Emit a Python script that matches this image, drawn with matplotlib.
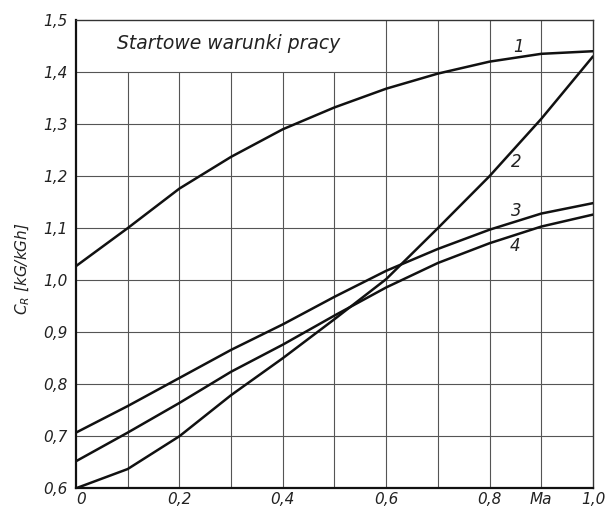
import matplotlib.pyplot as plt

# Ma number and the four unit-consumption curves
ma = [0.0, 0.1, 0.2, 0.3, 0.4, 0.5, 0.6, 0.7, 0.8, 0.9, 1.0]
cr_1 = [1.027, 1.100, 1.176, 1.237, 1.290, 1.332, 1.368, 1.397, 1.420, 1.435, 1.440]
cr_2 = [0.600, 0.637, 0.700, 0.779, 0.850, 0.925, 1.002, 1.100, 1.200, 1.310, 1.430]
cr_3 = [0.707, 0.758, 0.812, 0.866, 0.915, 0.968, 1.018, 1.060, 1.097, 1.128, 1.148]
cr_4 = [0.652, 0.707, 0.764, 0.824, 0.876, 0.932, 0.986, 1.033, 1.071, 1.103, 1.126]

curves = [cr_1, cr_2, cr_3, cr_4]
curve_names = ["1", "2", "3", "4"]
name_pos = [(0.855, 1.448), (0.852, 1.228), (0.852, 1.133), (0.849, 1.066)]

y_ticks = [0.6, 0.7, 0.8, 0.9, 1.0, 1.1, 1.2, 1.3, 1.4, 1.5]
y_labels = ["0,6", "0,7", "0,8", "0,9", "1,0", "1,1", "1,2", "1,3", "1,4", "1,5"]
x_ticks = [0.0, 0.2, 0.4, 0.6, 0.8, 0.9, 1.0]
x_labels = ["0", "0,2", "0,4", "0,6", "0,8", "Ma", "1,0"]

fig = plt.figure(figsize=(6.06, 5.09), dpi=100)
ax = fig.add_axes([0.1254, 0.0407, 0.8531, 0.920])

grid_kw = dict(color="#555555", lw=0.8, zorder=1)
# horizontal grid
ax.hlines([0.7, 0.8, 0.9, 1.0, 1.1, 1.2, 1.3, 1.4], 0, 1.0, **grid_kw)
# vertical grid: left part stops under the heading
ax.vlines([0.1, 0.2, 0.3, 0.4, 0.5], 0.6, 1.4, **grid_kw)
ax.vlines([0.6, 0.7, 0.8, 0.9], 0.6, 1.5, **grid_kw)

for cr in curves:
    ax.plot(ma, cr, color="#111111", lw=1.8, zorder=3,
            solid_capstyle="round", solid_joinstyle="round")

for name, (xp, yp) in zip(curve_names, name_pos):
    ax.text(xp, yp, name, fontsize=12, style="italic", ha="center", va="center",
            color="#222222")

ax.text(0.08, 1.455, "Startowe warunki pracy", fontsize=13.5, style="italic",
        ha="left", va="center", color="#222222")

ax.set_xlim(0, 1.0)
ax.set_ylim(0.6, 1.5)
ax.set_yticks(y_ticks)
ax.set_yticklabels(y_labels)
ax.set_xticks(x_ticks)
ax.set_xticklabels(x_labels)
ax.tick_params(length=0, labelsize=11, colors="#222222")
ax.tick_params(axis="y", pad=6)
ax.tick_params(axis="x", pad=3)
for lab in ax.get_xticklabels() + ax.get_yticklabels():
    lab.set_style("italic")
ax.get_xticklabels()[0].set_horizontalalignment("left")

ax.set_ylabel("$C_R$ [kG/kGh]", fontsize=11, style="italic", color="#222222")
ax.yaxis.set_label_coords(-0.085, 0.47)

for side in ["left", "bottom"]:
    ax.spines[side].set_linewidth(1.6)
    ax.spines[side].set_color("#111111")
for side in ["top", "right"]:
    ax.spines[side].set_linewidth(1.0)
    ax.spines[side].set_color("#333333")

fig.savefig("out.png", dpi=100)
